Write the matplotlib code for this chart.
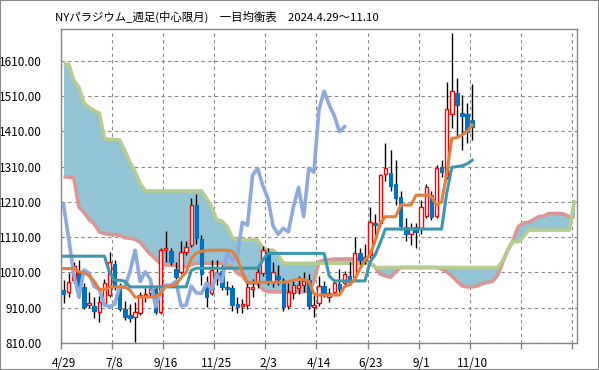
import numpy as np
import matplotlib
matplotlib.use('Agg')
from matplotlib import pyplot as plt
from matplotlib.patches import Rectangle

plt.rcParams['font.family'] = ['Noto Sans CJK JP', 'DejaVu Sans']

title = 'NYパラジウム_週足(中心限月)　一目均衡表　2024.4.29～11.10'
date_labels = ['4/29', '7/8', '9/16', '11/25', '2/3', '4/14', '6/23', '9/1', '11/10']

# weekly candles 2024/4/29 - 2025/11/10
opens = [960, 954, 988, 1012, 970, 919, 915, 897, 922, 946,
         1035, 968, 906, 889, 883, 895, 942, 951, 962, 899,
         1075, 1071, 1020, 1012, 1069, 1088, 1201, 1104, 984, 951,
         990, 1015, 970, 966, 921, 914, 918, 963, 979, 1007,
         1069, 984, 1000, 984, 915, 951, 965, 975, 988, 911,
         922, 971, 941, 955, 978, 981, 1000, 998, 1066, 1045,
         1059, 1149, 1149, 1288, 1292, 1260, 1225, 1140, 1118, 1140,
         1135, 1171, 1229, 1171, 1310, 1281, 1458, 1518, 1461, 1458,
         1442]
highs = [988, 1007, 1040, 1045, 980, 954, 940, 944, 990, 1068,
         1045, 980, 930, 920, 925, 955, 965, 975, 970, 1078,
         1127, 1078, 1040, 1100, 1100, 1220, 1232, 1115, 1000, 1045,
         1045, 1030, 985, 975, 940, 935, 980, 990, 1030, 1085,
         1078, 1040, 1030, 995, 980, 985, 1000, 1010, 1005, 945,
         1000, 985, 965, 990, 1020, 1015, 1040, 1111, 1080, 1090,
         1196, 1177, 1290, 1376, 1357, 1330, 1240, 1165, 1150, 1150,
         1215, 1260, 1240, 1315, 1330, 1550, 1690, 1560, 1513, 1490,
         1544]
lows = [922, 941, 980, 937, 905, 909, 880, 870, 915, 940,
        960, 900, 875, 870, 812, 890, 925, 940, 893, 893,
        1040, 1030, 990, 1005, 1060, 1083, 1090, 975, 913, 945,
        975, 960, 945, 900, 895, 895, 905, 940, 965, 1000,
        975, 970, 975, 900, 905, 935, 950, 955, 905, 883,
        915, 940, 925, 945, 955, 970, 975, 990, 1030, 1035,
        1050, 1110, 1140, 1270, 1240, 1200, 1130, 1100, 1088, 1078,
        1120, 1165, 1160, 1165, 1280, 1275, 1420, 1394, 1357, 1377,
        1385]
closes = [948, 982, 1028, 970, 913, 924, 900, 925, 979, 1040,
          968, 905, 885, 882, 898, 946, 950, 962, 899, 1073,
          1079, 1039, 998, 1069, 1083, 1201, 1107, 1005, 941, 1017,
          1008, 970, 962, 918, 913, 920, 969, 968, 1012, 1073,
          984, 1012, 990, 913, 955, 974, 974, 985, 915, 918,
          971, 952, 951, 979, 962, 1005, 984, 1066, 1045, 1055,
          1152, 1144, 1286, 1305, 1256, 1220, 1142, 1118, 1135, 1125,
          1196, 1251, 1168, 1305, 1294, 1472, 1524, 1485, 1454, 1409,
          1423]

# conversion line / base line
tenkan = [1021, 1021, 1021, 1012, 1010, 1000, 985, 962, 962, 969,
          969, 969, 969, 960, 940, 940, 940, 940, 942, 950,
          970, 972, 975, 995, 1010, 1050, 1065, 1070, 1072, 1073,
          1073, 1073, 1073, 1070, 1050, 1010, 982, 982, 982, 982,
          982, 982, 982, 982, 984, 988, 990, 990, 985, 950,
          946, 946, 946, 946, 946, 970, 975, 990, 1020, 1045,
          1060, 1100, 1150, 1168, 1168, 1168, 1201, 1201, 1201, 1229,
          1229, 1229, 1225, 1201, 1210, 1290, 1390, 1392, 1400, 1410,
          1428]
kijun = [1056, 1056, 1056, 1056, 1056, 1056, 1056, 1056, 1056, 1010,
         988, 988, 985, 969, 969, 969, 969, 969, 969, 969,
         969, 969, 969, 969, 969, 1016, 1022, 1022, 1022, 1022,
         1022, 1022, 1022, 1022, 1022, 1022, 1022, 1022, 1022, 1045,
         1064, 1064, 1064, 1064, 1064, 1064, 1064, 1064, 1064, 1064,
         1064, 1064, 1000, 986, 986, 986, 986, 986, 986, 986,
         1040, 1060, 1095, 1133, 1133, 1133, 1133, 1133, 1133, 1133,
         1133, 1133, 1133, 1133, 1133, 1235, 1308, 1310, 1312, 1318,
         1328]

# leading spans (drawn 25 weeks ahead)
span_a = [1281, 1280, 1278, 1195, 1180, 1160, 1148, 1125, 1120, 1118,
          1117, 1116, 1108, 1107, 1104, 1095, 1078, 1062, 1048, 1035,
          1031, 1031, 1029, 1026, 1026, 1032, 1036, 1036, 1036, 1036,
          1036, 1035, 1031, 1026, 1008, 1000, 980, 979, 979, 962,
          955, 955, 955, 955, 955, 955, 955, 955, 958, 985,
          1040, 1045, 1046, 1048, 1048, 1048, 1048, 1048, 1047, 1045,
          1037, 1025, 1005, 1000, 996, 1012, 1024, 1024, 1024, 1024,
          1024, 1024, 1024, 1024, 1020, 1012, 1000, 985, 972, 969,
          969, 972, 978, 982, 985, 1003, 1040, 1075, 1102, 1140,
          1150, 1152, 1160, 1168, 1170, 1177, 1177, 1177, 1175, 1168,
          1166]
span_b = [1601, 1600, 1555, 1535, 1490, 1478, 1468, 1462, 1390, 1387,
          1387, 1385, 1355, 1322, 1295, 1262, 1241, 1241, 1241, 1241,
          1241, 1241, 1241, 1241, 1241, 1241, 1241, 1241, 1220, 1195,
          1160, 1155, 1140, 1110, 1102, 1102, 1102, 1102, 1102, 1080,
          1073, 1073, 1060, 1036, 1036, 1036, 1036, 1036, 1036, 1036,
          1036, 1036, 1036, 1036, 1036, 1036, 1036, 1036, 1036, 1036,
          1036, 1024, 1024, 1024, 1024, 1024, 1024, 1024, 1024, 1024,
          1024, 1024, 1024, 1024, 1024, 1024, 1024, 1024, 1024, 1024,
          1024, 1024, 1024, 1024, 1024, 1024, 1045, 1075, 1097, 1097,
          1110, 1130, 1130, 1130, 1130, 1130, 1130, 1130, 1130, 1130,
          1215]

LAG = 25

o = np.array(opens, float)
h = np.array(highs, float)
l = np.array(lows, float)
c = np.array(closes, float)
x = np.arange(len(c))
xs = np.arange(len(span_a))

fig = plt.figure(figsize=(5.99, 3.70), dpi=100)
ax = fig.add_axes([61 / 599, 1 - 343 / 370, 516 / 599, 314 / 370])

# cloud
ax.fill_between(xs, span_a, span_b, color='#93C4D5', lw=0, zorder=1)
ax.plot(xs, span_a, color='#D99694', lw=2.6, zorder=2, solid_capstyle='butt')
ax.plot(xs, span_b, color='#B7CC8F', lw=2.6, zorder=2, solid_capstyle='butt')

# candles
up = c >= o
ax.vlines(x, l, h, color='black', lw=1.0, zorder=3)
ax.bar(x[up], (c - o)[up], bottom=o[up], width=0.68, facecolor='white',
       edgecolor='#FF0000', lw=1.0, zorder=4)
ax.bar(x[~up], (o - c)[~up], bottom=c[~up], width=0.68, facecolor='#0070C0',
       edgecolor='#0070C0', lw=0.8, zorder=4)

# lagging span, conversion and base lines
ax.plot(x[:len(c) - LAG], c[LAG:], color='#8EA9DB', lw=2.6, zorder=5)
ax.plot(x, kijun, color='#3A97AC', lw=2.2, zorder=6)
ax.plot(x, tenkan, color='#E2803B', lw=2.2, zorder=7)

ax.set_xlim(-0.5, 100.5)
ax.set_ylim(810, 1700)

ax.set_yticks(np.arange(810, 1611, 100))
ax.set_yticklabels([f'{v:.2f}' for v in range(810, 1611, 100)])
ax.set_xticks(np.arange(0, 81, 10))
ax.set_xticklabels(date_labels)
ax.set_xticks(np.arange(-0.5, 100, 10), minor=True)

ax.tick_params(axis='x', which='major', length=0, pad=10, labelsize=8.5)
ax.tick_params(axis='x', which='minor', length=4, color='#868686', width=1)
ax.tick_params(axis='y', length=0, pad=14, labelsize=8.5)

ax.grid(True, axis='y', which='major', color='#868686', ls=(0, (3, 3)), lw=0.8)
ax.grid(True, axis='x', which='minor', color='#868686', ls=(0, (3, 3)), lw=0.8)
ax.set_axisbelow(True)

for s in ax.spines.values():
    s.set_color('#868686')
    s.set_linewidth(1.0)

fig.text(55 / 599, 1 - 17 / 370, title, fontsize=8.2, ha='left', va='center')
fig.patches.append(Rectangle((0, 0), 1, 1, transform=fig.transFigure,
                             fill=False, edgecolor='#888888', lw=1.5))

fig.savefig('out.png', dpi=100)
